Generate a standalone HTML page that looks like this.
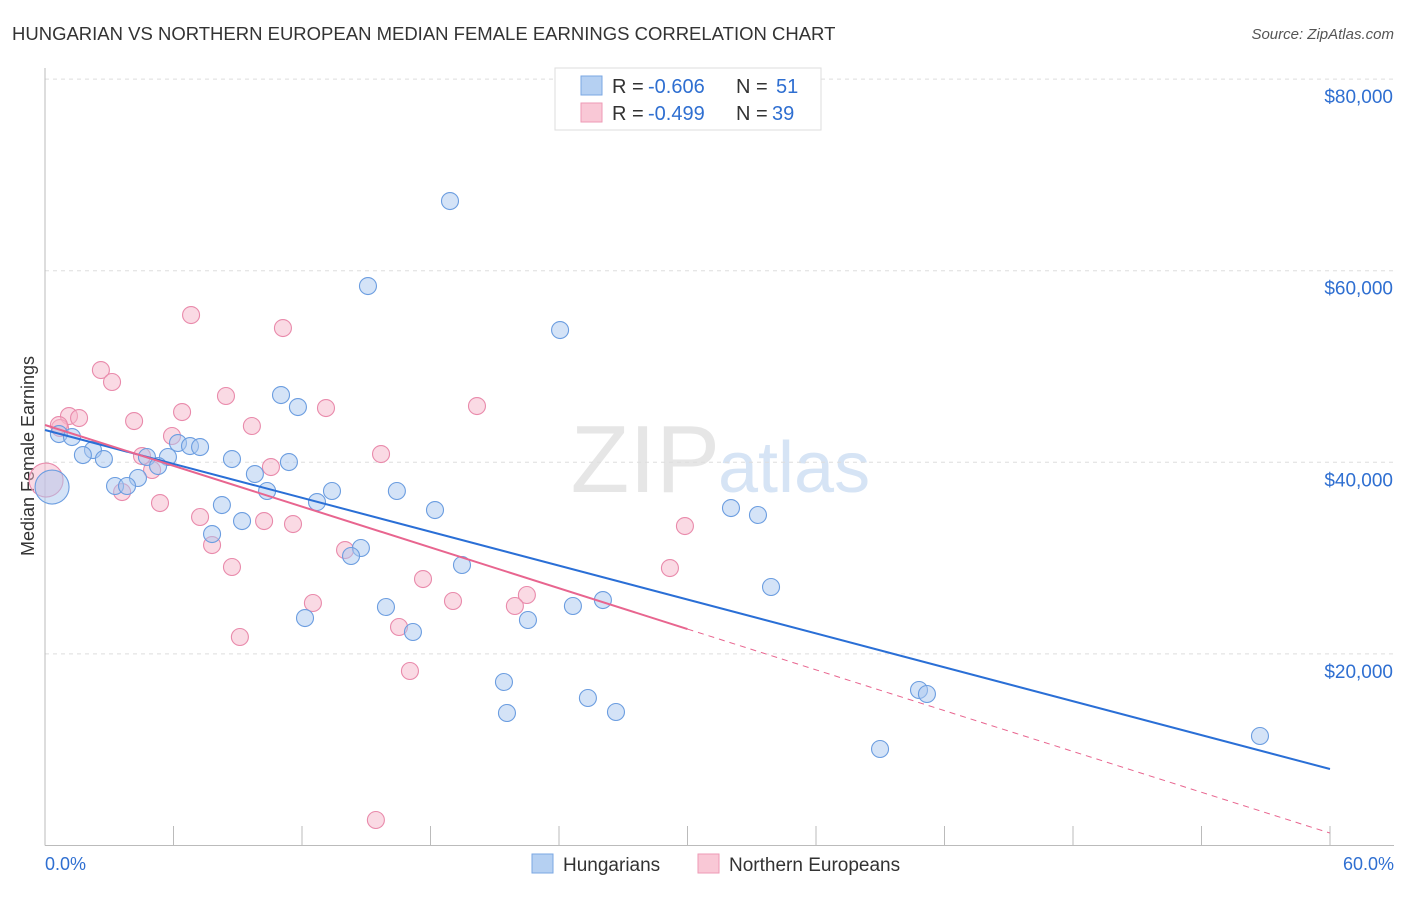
<!DOCTYPE html>
<html><head><meta charset="utf-8"><style>
body{margin:0;background:#fff;font-family:"Liberation Sans",sans-serif}
svg text{font-family:"Liberation Sans",sans-serif}
</style></head><body>
<svg id="chart" width="1406" height="892" xmlns="http://www.w3.org/2000/svg">
<text x="12" y="40" font-size="18.5" fill="#333">HUNGARIAN VS NORTHERN EUROPEAN MEDIAN FEMALE EARNINGS CORRELATION CHART</text>
<text x="1394" y="39" font-size="15" fill="#555" font-style="italic" text-anchor="end">Source: ZipAtlas.com</text>
<text x="720" y="492" font-size="96" fill="#e6e6e6" text-anchor="end" font-family="Liberation Serif">ZIP</text>
<text x="718" y="492" font-size="72" fill="#d6e4f5">atlas</text>
<text transform="translate(34,456) rotate(-90)" font-size="18" fill="#333" text-anchor="middle">Median Female Earnings</text>
<g id="grid"></g><g id="marks"></g>
<g>
<rect x="555" y="68" width="266" height="62" fill="#fff" stroke="#ddd"/>
<rect x="581" y="76" width="21" height="19" fill="#b5d0f2" stroke="#7aa7e3"/>
<rect x="581" y="103" width="21" height="19" fill="#f9c8d6" stroke="#ee9ab5"/>
<text y="93" font-size="20" fill="#333"><tspan x="612">R =</tspan><tspan x="648" fill="#2f6fd1">-0.606</tspan><tspan x="736">N =</tspan><tspan x="776" fill="#2f6fd1">51</tspan></text>
<text y="120" font-size="20" fill="#333"><tspan x="612">R =</tspan><tspan x="648" fill="#2f6fd1">-0.499</tspan><tspan x="736">N =</tspan><tspan x="772" fill="#2f6fd1">39</tspan></text>
</g>
<g>
<rect x="532" y="854" width="21" height="19" fill="#b5d0f2" stroke="#7aa7e3"/>
<text x="563" y="871" font-size="19" fill="#333">Hungarians</text>
<rect x="698" y="854" width="21" height="19" fill="#f9c8d6" stroke="#ee9ab5"/>
<text x="729" y="871" font-size="19" fill="#333">Northern Europeans</text>
</g>
<text x="45" y="870" font-size="18" fill="#2f6fd1">0.0%</text>
<text x="1394" y="870" font-size="18" fill="#2f6fd1" text-anchor="end">60.0%</text>
</svg>
<script>
const yTicks=[20000,40000,60000,80000];
const yTickLabels=["$20,000","$40,000","$60,000","$80,000"];
const xTicks=[0,6,12,18,24,30,36,42,48,54,60];
const hunX=[18.91,15.08,24.05,11.02,11.81,0.65,1.26,6.21,6.77,7.24,2.24,1.77,5.74,2.75,4.76,5.28,8.73,11.39,9.80,4.34,3.27,3.83,10.37,13.40,16.43,12.70,8.26,18.21,32.03,33.29,9.20,7.80,14.75,14.29,19.47,33.90,26.05,24.65,15.92,12.14,22.55,17.18,21.43,25.35,40.81,41.18,21.57,26.66,38.99,56.73,0.33];
const hunY=[67273,58400,53808,47023,45771,42952,42639,42013,41700,41595,41282,40760,40552,40343,40552,39612,40343,40030,38777,38360,37525,37525,37003,37003,37003,35854,35541,35019,35228,34498,33871,32514,31053,30218,29279,26982,25625,24999,24895,23746,23538,22285,17066,15396,16231,15814,13830,13935,10073,11430,37420];
const neX=[0.05,6.82,11.11,2.61,3.13,1.12,1.59,8.45,6.40,4.16,13.12,20.17,9.66,0.70,5.93,4.53,15.69,5.00,10.55,3.60,5.37,7.24,10.23,11.58,29.88,7.80,14.01,8.73,29.18,17.65,12.51,19.05,22.50,21.94,16.53,9.10,17.04,15.45,0.65];
const neY=[38151,55374,54017,49633,48381,44831,44622,46920,45249,44309,45666,45875,43788,43579,42744,40656,40865,39195,39508,36898,35750,34289,33871,33558,33349,31366,30844,29070,28965,27817,25312,25521,26147,24999,22807,21763,18214,2662,43892];
const hunTrend=[43370,7985];
const neTrend=[43892,1296];
const NS='http://www.w3.org/2000/svg';
const X=p=>45+p/60*1285, Y=v=>845.5-v/20000*191.6;
const grid=document.getElementById('grid'), marks=document.getElementById('marks');
function mk(tag,at,parent){const e=document.createElementNS(NS,tag);for(const k in at)e.setAttribute(k,at[k]);parent.appendChild(e);return e;}
yTicks.forEach((t,i)=>{
 const l=mk('line',{x1:45,x2:1394,y1:Y(t),y2:Y(t),stroke:'#ddd','stroke-dasharray':'4,4'},grid);
 
 
 const tx=mk('text',{x:1393,y:Y(t)+24,'font-size':19,fill:'#2f6fd1','text-anchor':'end'},grid);tx.textContent=yTickLabels[i];
 
 
});
const ax=mk('line',{x1:45,x2:1394,y1:845.5,y2:845.5,stroke:'#bbb'},grid);


const ay=mk('line',{x1:45,x2:45,y1:68,y2:845.5,stroke:'#bbb'},grid);


xTicks.forEach(t=>{const l=mk('line',{x1:X(t),x2:X(t),y1:826,y2:845.5,stroke:'#bbb'},grid);
 
 });
function pts(xs,ys,fill,stroke,name){xs.forEach((x,i)=>{const big=(name=='hungarian-point'&&i==xs.length-1)||(name=='northern-european-point'&&i==0);
 const c=mk('circle',{cx:X(x),cy:Y(ys[i]),r:big?17:8.5,fill:fill,'fill-opacity':0.5,stroke:stroke,'stroke-width':1.1},marks);
 
 });}
pts(neX,neY,'#f6b5c9','#e98aab','northern-european-point');
pts(hunX,hunY,'#a9c8f0','#6b9de0','hungarian-point');
const hl=mk('line',{x1:X(0),y1:Y(hunTrend[0]),x2:X(60),y2:Y(hunTrend[1]),stroke:'#2a6fd6','stroke-width':2},marks);


const nv=v=>neTrend[0]+(neTrend[1]-neTrend[0])*v/60;
const nl=mk('line',{x1:X(0),y1:Y(nv(0)),x2:X(30),y2:Y(nv(30)),stroke:'#e8658f','stroke-width':2},marks);


const nd=mk('line',{x1:X(30),y1:Y(nv(30)),x2:X(60),y2:Y(nv(60)),stroke:'#e8658f','stroke-width':1,'stroke-dasharray':'6,5'},marks);


</script>
</body></html>
